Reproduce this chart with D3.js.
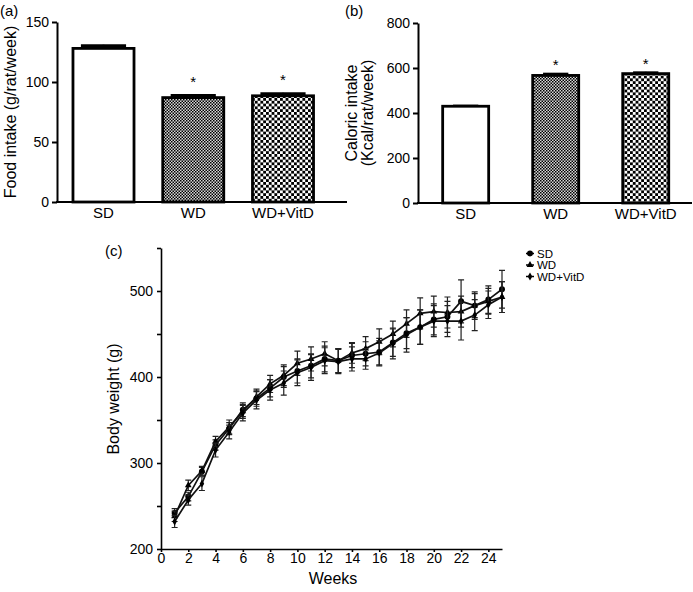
<!DOCTYPE html>
<html>
<head>
<meta charset="utf-8">
<script src="https://cdn.jsdelivr.net/npm/d3@7"></script>
<style>
  body { margin: 0; background: white; }
  text { font-family: "Liberation Sans", Arial, sans-serif; fill: black; }
</style>
</head>
<body>
<div id="chart"></div>
<script>
// data
var groups = ["SD", "WD", "WD+VitD"];
var foodMean = [128, 87, 88.5];
var foodErr = [3, 2.5, 2.5];
var calMean = [430, 567, 575];
var calErr = [5, 10, 8];
var starred = [false, true, true];

var weeks = [1, 2, 3, 4, 5, 6, 7, 8, 9, 10, 11, 12, 13, 14, 15, 16, 17, 18, 19, 20, 21, 22, 23, 24, 25];
var sdWeight = [242, 261, 290, 321, 340, 362, 375, 387, 400, 407, 413, 421, 419, 425, 427, 429, 440, 451, 458, 467, 470, 488, 483, 490, 502];
var sdErr = [5, 5, 5, 6, 7, 8, 9, 10, 12, 14, 14, 15, 14, 14, 14, 16, 16, 18, 20, 18, 18, 25, 16, 16, 22];
var wdWeight = [238, 274, 291, 325, 342, 360, 377, 392, 402, 416, 421, 427, 419, 428, 433, 441, 450, 462, 474, 476, 475, 476, 483, 488, 493];
var wdErr = [6, 6, 5, 6, 8, 8, 9, 10, 12, 14, 14, 14, 14, 12, 14, 15, 15, 16, 18, 18, 18, 18, 14, 15, 18];
var vitWeight = [232, 257, 276, 315, 336, 358, 373, 385, 393, 405, 411, 419, 418, 421, 421, 428, 439, 449, 458, 465, 465, 465, 472, 484, 493];
var vitErr = [7, 6, 8, 8, 8, 9, 10, 12, 14, 15, 15, 15, 14, 14, 12, 14, 18, 20, 20, 18, 18, 22, 18, 16, 18];

var svg = d3.select("#chart")
  .append("svg")
  .attr("width", 693)
  .attr("height", 592);

// bar fill patterns
var defs = svg.append("defs");
var fine = defs.append("pattern")
  .attr("id", "fine")
  .attr("patternUnits", "userSpaceOnUse")
  .attr("width", 3).attr("height", 3);
fine.append("rect").attr("width", 3).attr("height", 3).attr("fill", "#d8d8d8");
fine.append("rect").attr("width", 1.5).attr("height", 1.5).attr("fill", "#000");
fine.append("rect").attr("x", 1.5).attr("y", 1.5).attr("width", 1.5).attr("height", 1.5).attr("fill", "#000");

var coarse = defs.append("pattern")
  .attr("id", "coarse")
  .attr("patternUnits", "userSpaceOnUse")
  .attr("width", 5.6).attr("height", 5.6);
coarse.append("rect").attr("width", 5.6).attr("height", 5.6).attr("fill", "#000");
coarse.append("rect").attr("width", 2.8).attr("height", 2.8).attr("fill", "#fff");
coarse.append("rect").attr("x", 2.8).attr("y", 2.8).attr("width", 2.8).attr("height", 2.8).attr("fill", "#fff");

var fills = ["#fff", "url(#fine)", "url(#coarse)"];

// one bar panel
function barPanel(o) {
  var g = svg.append("g");

  var x = d3.scaleBand()
    .domain(groups)
    .range([o.left, o.right])
    .paddingInner(o.padIn)
    .paddingOuter(o.padOut);

  var y = d3.scaleLinear()
    .domain([0, o.max])
    .range([o.bottom, o.top]);

  var yAxis = g.append("g")
    .attr("transform", `translate(${o.left},0)`)
    .call(d3.axisLeft(y).tickValues(o.ticks).tickSize(5).tickPadding(3).tickSizeOuter(0));
  yAxis.selectAll("text").style("font-size", "14px").style("font-family", "Liberation Sans, Arial");
  yAxis.selectAll("line, path").attr("stroke-width", 2);

  var xAxis = g.append("g")
    .attr("transform", `translate(0,${o.bottom})`)
    .call(d3.axisBottom(x).tickSize(0).tickPadding(5));
  xAxis.select(".domain").remove();
  xAxis.selectAll("text").style("font-size", "15px").style("font-family", "Liberation Sans, Arial");
  g.append("line")
    .attr("x1", o.left - 1).attr("x2", o.axisEnd)
    .attr("y1", o.bottom).attr("y2", o.bottom)
    .attr("stroke", "black").attr("stroke-width", 2);

  var rows = groups.map((k, i) => ({ k: k, m: o.mean[i], e: o.err[i], s: starred[i], f: fills[i] }));

  // error bars
  var capW = x.bandwidth() * o.cap;
  g.selectAll(".eb").data(rows).enter().append("line")
    .attr("x1", d => x(d.k) + x.bandwidth() / 2)
    .attr("x2", d => x(d.k) + x.bandwidth() / 2)
    .attr("y1", d => y(d.m))
    .attr("y2", d => y(d.m + d.e))
    .attr("stroke", "black").attr("stroke-width", 2);
  g.selectAll(".cap").data(rows).enter().append("line")
    .attr("x1", d => x(d.k) + x.bandwidth() / 2 - capW / 2)
    .attr("x2", d => x(d.k) + x.bandwidth() / 2 + capW / 2)
    .attr("y1", d => y(d.m + d.e) + 1)
    .attr("y2", d => y(d.m + d.e) + 1)
    .attr("stroke", "black").attr("stroke-width", 3);

  g.selectAll(".bar").data(rows).enter().append("rect")
    .attr("x", d => x(d.k))
    .attr("y", d => y(d.m))
    .attr("width", x.bandwidth())
    .attr("height", d => o.bottom - y(d.m))
    .attr("fill", d => d.f)
    .attr("stroke", "black")
    .attr("stroke-width", 2.8);

  g.selectAll(".star").data(rows.filter(d => d.s)).enter().append("text")
    .attr("x", d => x(d.k) + x.bandwidth() / 2)
    .attr("y", d => y(d.m + d.e) - o.starGap + 9)
    .attr("text-anchor", "middle")
    .style("font-size", "15px")
    .text("*");

  // rotated axis title, one or two lines
  o.title.forEach(function(t, i) {
    g.append("text")
      .attr("transform", `translate(${o.titleX + i * 16},${(o.top + o.bottom) / 2}) rotate(-90)`)
      .attr("text-anchor", "middle")
      .style("font-size", "16px")
      .text(t);
  });

  g.append("text")
    .attr("x", o.tagX).attr("y", 16)
    .style("font-size", "15px")
    .text(o.tag);
}

barPanel({
  left: 57, right: 329.5, axisEnd: 347, top: 22, bottom: 202,
  padIn: 0.32, padOut: 0.178, max: 150, ticks: [0, 50, 100, 150],
  mean: foodMean, err: foodErr, cap: 0.74, starGap: 17,
  title: ["Food intake (g/rat/week)"], titleX: 16, tag: "(a)", tagX: 0
});

barPanel({
  left: 418, right: 693.4, axisEnd: 692, top: 23, bottom: 203,
  padIn: 0.489, padOut: 0.274, max: 800, ticks: [0, 200, 400, 600, 800],
  mean: calMean, err: calErr, cap: 0.55, starGap: 12,
  title: ["Caloric intake", "(Kcal/rat/week)"], titleX: 357, tag: "(b)", tagX: 345
});

// body weight panel
var series = [
  { name: "SD", vals: sdWeight, errs: sdErr, sym: d3.symbolCircle, size: 28 },
  { name: "WD", vals: wdWeight, errs: wdErr, sym: d3.symbolTriangle, size: 20 },
  { name: "WD+VitD", vals: vitWeight, errs: vitErr, sym: d3.symbolDiamond, size: 18 }
];

var cg = svg.append("g");
var xW = d3.scaleLinear().domain([0, 25]).range([161, 502]);
var yW = d3.scaleLinear().domain([200, 550]).range([549, 248]);

var yAxisC = cg.append("g")
  .attr("transform", "translate(161,0)")
  .call(d3.axisLeft(yW).tickValues(d3.range(200, 551, 50)).tickSize(4).tickPadding(4).tickSizeOuter(0)
    .tickFormat(d => d % 100 === 0 ? d : ""));
var xAxisC = cg.append("g")
  .attr("transform", "translate(0,549)")
  .call(d3.axisBottom(xW).tickValues(d3.range(0, 25, 2)).tickSize(3).tickPadding(1).tickSizeOuter(0));
cg.selectAll(".tick text").style("font-size", "14px").style("font-family", "Liberation Sans, Arial");
cg.selectAll(".domain, .tick line").attr("stroke-width", 1.6);

cg.append("text")
  .attr("transform", "translate(119,399) rotate(-90)")
  .attr("text-anchor", "middle")
  .style("font-size", "16px")
  .text("Body weight (g)");
cg.append("text")
  .attr("x", 333).attr("y", 584)
  .attr("text-anchor", "middle")
  .style("font-size", "16px")
  .text("Weeks");
cg.append("text")
  .attr("x", 105).attr("y", 256)
  .style("font-size", "15px")
  .text("(c)");

var line = d3.line()
  .x((d, i) => xW(weeks[i]))
  .y(d => yW(d));

series.forEach(function(s) {
  var pts = weeks.map((w, i) => ({ w: w, v: s.vals[i], e: s.errs[i] }));
  var sg = cg.append("g");

  sg.selectAll(".err").data(pts).enter().append("path")
    .attr("d", d => {
      var cx = xW(d.w), hi = yW(d.v + d.e), lo = yW(d.v - d.e);
      return `M${cx},${hi}V${lo}M${cx - 3},${hi}H${cx + 3}M${cx - 3},${lo}H${cx + 3}`;
    })
    .attr("fill", "none")
    .attr("stroke", "#222")
    .attr("stroke-width", 1.2);

  sg.append("path")
    .datum(s.vals)
    .attr("d", line)
    .attr("fill", "none")
    .attr("stroke", "#111")
    .attr("stroke-width", 1.7);

  sg.selectAll(".pt").data(pts).enter().append("path")
    .attr("transform", d => `translate(${xW(d.w)},${yW(d.v)})`)
    .attr("d", d3.symbol().type(s.sym).size(s.size))
    .attr("fill", "black");
});

// legend
var leg = cg.append("g");
series.forEach(function(s, i) {
  var ly = 253.5 + i * 11.5;
  leg.append("line")
    .attr("x1", 526).attr("x2", 534)
    .attr("y1", ly).attr("y2", ly)
    .attr("stroke", "black").attr("stroke-width", 1.5);
  leg.append("path")
    .attr("transform", `translate(530,${ly})`)
    .attr("d", d3.symbol().type(s.sym).size(s.size))
    .attr("fill", "black");
  leg.append("text")
    .attr("x", 537).attr("y", ly + 4)
    .style("font-size", "11.5px")
    .text(s.name);
});
</script>
</body>
</html>
